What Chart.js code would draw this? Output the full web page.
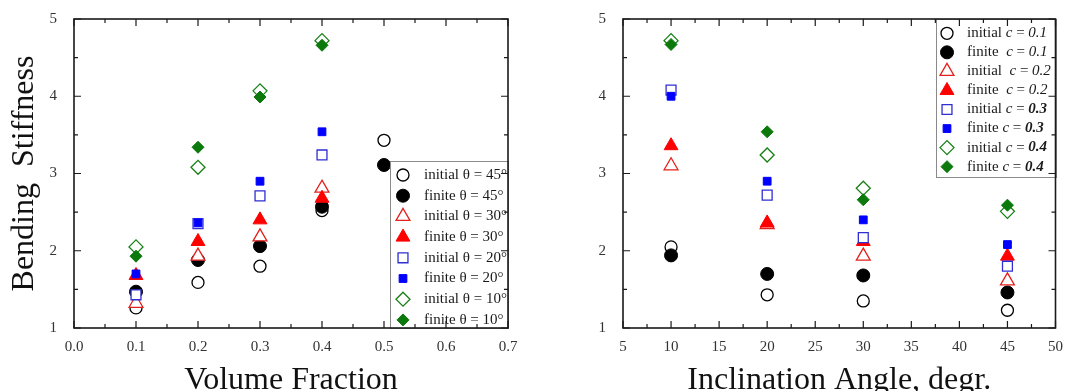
<!DOCTYPE html>
<html>
<head>
<meta charset="utf-8">
<script src="https://cdn.jsdelivr.net/npm/chart.js@4.4.1/dist/chart.umd.min.js"></script>
<style>
  html, body { margin: 0; padding: 0; background: #fff; overflow: hidden; }
  #wrap { position: relative; width: 1065px; height: 391px; }
  .panel { position: absolute; top: 0; }
</style>
</head>
<body>
<div id="wrap">
  <canvas id="fractionChart" class="panel" style="left:0" width="530" height="391"></canvas>
  <canvas id="angleChart" class="panel" style="left:535px" width="530" height="391"></canvas>
</div>
<script>
// Dữ liệu biểu đồ trái: độ cứng uốn theo tỉ lệ thể tích
const volumeFractions = [0.1, 0.2, 0.3, 0.4, 0.5];
const initial45 = [1.26, 1.59, 1.80, 2.52, 3.43];
const finite45 = [1.47, 1.88, 2.06, 2.57, 3.11];
const initial30 = [1.32, 1.93, 2.18, 2.81];
const finite30 = [1.68, 2.12, 2.40, 2.68];
const initial20 = [1.43, 2.35, 2.71, 3.24];
const finite20 = [1.70, 2.36, 2.90, 3.54];
const initial10 = [2.05, 3.08, 4.07, 4.72];
const finite10 = [1.93, 3.34, 3.99, 4.66];
const fractionLabels = [
  "initial θ = 45°", "finite θ = 45°",
  "initial θ = 30°", "finite θ = 30°",
  "initial θ = 20°", "finite θ = 20°",
  "initial θ = 10°", "finite θ = 10°",
];

// Dữ liệu biểu đồ phải: độ cứng uốn theo góc nghiêng
const angles = [10, 20, 30, 45];
const initialC01 = [2.05, 1.43, 1.35, 1.23];
const finiteC01 = [1.94, 1.70, 1.68, 1.46];
const initialC02 = [3.10, 2.34, 1.93, 1.61];
const finiteC02 = [3.36, 2.36, 2.12, 1.93];
const initialC03 = [4.08, 2.72, 2.17, 1.80];
const finiteC03 = [4.00, 2.90, 2.40, 2.08];
const initialC04 = [4.72, 3.24, 2.81, 2.51];
const finiteC04 = [4.67, 3.54, 2.66, 2.59];
// [tiền tố, giá trị c]
const angleLabels = [
  ["initial ", "0.1"], ["finite  ", "0.1"],
  ["initial  ", "0.2"], ["finite  ", "0.2"],
  ["initial ", "0.3"], ["finite ", "0.3"],
  ["initial ", "0.4"], ["finite ", "0.4"],
];
const boldValues = ["0.3", "0.4"];

// Kiểu điểm cho 8 chuỗi (rỗng / đặc)
const markerStyles = [
  { pointStyle: "circle", radius: 6, color: "#000000", filled: false },
  { pointStyle: "circle", radius: 6.5, color: "#000000", filled: true },
  { pointStyle: "triangle", radius: 8, color: "#e3211c", filled: false },
  { pointStyle: "triangle", radius: 8, color: "#ff0000", filled: true },
  { pointStyle: "rect", radius: 7, color: "#2f2fd4", filled: false },
  { pointStyle: "rect", radius: 5.5, color: "#0000ff", filled: true },
  { pointStyle: "rectRot", radius: 7, color: "#168016", filled: false },
  { pointStyle: "rectRot", radius: 6, color: "#0b790b", filled: true },
];

const SERIF = "'Liberation Serif', 'DejaVu Serif', serif";

function buildDatasets(xs, seriesList, labels) {
  return seriesList.map((ys, i) => {
    const m = markerStyles[i];
    return {
      label: Array.isArray(labels[i]) ? labels[i].join("") : labels[i],
      data: ys.map((y, j) => ({ x: xs[j], y: y })),
      showLine: false,
      order: -i, // chuỗi sau vẽ đè lên chuỗi trước
      pointStyle: m.pointStyle,
      pointRadius: m.radius,
      pointBackgroundColor: m.filled ? m.color : "#ffffff",
      pointBorderColor: m.color,
      pointBorderWidth: m.filled ? 1 : 1.3,
    };
  });
}

// Plugin vẽ khung, vạch chia hướng vào trong và chú giải bên trong vùng vẽ
const framePlugin = {
  id: "frameTicks",
  afterDraw(chart, args, opts) {
    const ctx = chart.ctx;
    const area = chart.chartArea;
    const xs = chart.scales.x;
    const ys = chart.scales.y;

    // Chú giải
    const lg = opts.legend;
    if (lg) {
      ctx.save();
      ctx.fillStyle = "#ffffff";
      ctx.fillRect(lg.x, lg.y, lg.w, lg.h);
      ctx.strokeStyle = "#8a8a8a";
      ctx.lineWidth = 1;
      ctx.strokeRect(lg.x + 0.5, lg.y + 0.5, lg.w, lg.h);
      chart.data.datasets.forEach((ds, i) => {
        const m = markerStyles[i];
        const cy = lg.rowStart + i * lg.rowGap;
        ctx.fillStyle = m.filled ? m.color : "#ffffff";
        ctx.strokeStyle = m.color;
        ctx.lineWidth = m.filled ? 1 : 1.3;
        Chart.helpers.drawPoint(ctx, {
          pointStyle: m.pointStyle, radius: m.radius, rotation: 0, borderWidth: ctx.lineWidth,
        }, lg.symbolX, cy);
        ctx.fillStyle = "#1a1a1a";
        ctx.textBaseline = "middle";
        let tx = lg.textX;
        opts.legendParts(i).forEach(([text, font]) => {
          ctx.font = font;
          ctx.fillText(text, tx, cy);
          tx += ctx.measureText(text).width;
        });
      });
      ctx.restore();
    }

    // Khung
    ctx.save();
    ctx.strokeStyle = "#1a1a1a";
    ctx.lineWidth = 1.6;
    ctx.strokeRect(area.left, area.top, area.right - area.left, area.bottom - area.top);

    // Vạch chia
    ctx.lineWidth = 1.2;
    ctx.beginPath();
    const eps = 1e-6;
    for (let v = xs.min; v <= xs.max + eps; v += opts.minorX) {
      const isMajor = Math.abs(v / opts.majorX - Math.round(v / opts.majorX)) < 1e-4;
      const len = isMajor ? 7 : 4;
      const px = xs.getPixelForValue(v);
      ctx.moveTo(px, area.bottom); ctx.lineTo(px, area.bottom - len);
      ctx.moveTo(px, area.top); ctx.lineTo(px, area.top + len);
    }
    for (let v = ys.min; v <= ys.max + eps; v += opts.minorY) {
      const isMajor = Math.abs(v - Math.round(v)) < 1e-4;
      const len = isMajor ? 7 : 4;
      const py = ys.getPixelForValue(v);
      ctx.moveTo(area.left, py); ctx.lineTo(area.left + len, py);
      ctx.moveTo(area.right, py); ctx.lineTo(area.right - len, py);
    }
    ctx.stroke();
    ctx.restore();
  },
};

function tickFont() {
  return { family: SERIF, size: 15 };
}

function makeOptions(cfg) {
  return {
    responsive: false,
    animation: false,
    devicePixelRatio: 1,
    events: [],
    layout: { padding: cfg.padding },
    scales: {
      x: {
        type: "linear",
        min: cfg.xMin,
        max: cfg.xMax,
        afterFit: (s) => { s.height = 63; },
        grid: { display: false },
        border: { display: false },
        ticks: {
          stepSize: cfg.xStep,
          padding: 2,
          color: "#333",
          font: tickFont(),
          maxRotation: 0,
          autoSkip: false,
          callback: cfg.xFormat,
        },
        title: {
          display: true,
          text: cfg.xTitle,
          color: "#111",
          font: { family: SERIF, size: 32, lineHeight: 0.65 },
          padding: 0,
        },
      },
      y: {
        type: "linear",
        min: 1,
        max: 5,
        afterFit: (s) => { s.width = cfg.yWidth; },
        grid: { display: false },
        border: { display: false },
        ticks: { stepSize: 1, padding: 9, color: "#333", font: tickFont() },
        title: {
          display: !!cfg.yTitle,
          text: cfg.yTitle || "",
          color: "#111",
          font: { family: SERIF, size: 32, lineHeight: 1.2 },
          padding: { top: 5, bottom: 0 },
        },
      },
    },
    plugins: {
      legend: { display: false },
      tooltip: { enabled: false },
      frameTicks: cfg.frame,
    },
  };
}

// Biểu đồ trái
new Chart(document.getElementById("fractionChart").getContext("2d"), {
  type: "scatter",
  data: {
    datasets: buildDatasets(volumeFractions,
      [initial45, finite45, initial30, finite30, initial20, finite20, initial10, finite10],
      fractionLabels),
  },
  options: makeOptions({
    padding: { left: 0, right: 22, top: 19, bottom: 0 },
    xMin: 0, xMax: 0.7, xStep: 0.1,
    xFormat: (v) => v.toFixed(1),
    xTitle: "Volume Fraction",
    yTitle: "Bending  Stiffness",
    yWidth: 74,
    frame: {
      minorX: 0.05, majorX: 0.1, minorY: 0.5,
      legend: { x: 390, y: 161, w: 118, h: 167, rowStart: 175, rowGap: 20.7, symbolX: 403, textX: 424 },
      legendParts: (i) => [[fractionLabels[i], "15px " + SERIF]],
    },
  }),
  plugins: [framePlugin],
});

// Biểu đồ phải
new Chart(document.getElementById("angleChart").getContext("2d"), {
  type: "scatter",
  data: {
    datasets: buildDatasets(angles,
      [initialC01, finiteC01, initialC02, finiteC02, initialC03, finiteC03, initialC04, finiteC04],
      angleLabels),
  },
  options: makeOptions({
    padding: { left: 0, right: 9, top: 19, bottom: 0 },
    xMin: 5, xMax: 50, xStep: 5,
    xFormat: (v) => String(v),
    xTitle: "Inclination Angle, degr.",
    yTitle: null,
    yWidth: 88,
    frame: {
      minorX: 2.5, majorX: 5, minorY: 0.5,
      legend: { x: 401, y: 19, w: 120, h: 158, rowStart: 33.3, rowGap: 19.05, symbolX: 412, textX: 432 },
      legendParts: (i) => {
        const [prefix, value] = angleLabels[i];
        const valueFont = boldValues.includes(value) ? "italic bold 15px " + SERIF : "italic 15px " + SERIF;
        return [
          [prefix, "15px " + SERIF],
          ["c", "italic 15px " + SERIF],
          [" = ", "15px " + SERIF],
          [value, valueFont],
        ];
      },
    },
  }),
  plugins: [framePlugin],
});
</script>
</body>
</html>
